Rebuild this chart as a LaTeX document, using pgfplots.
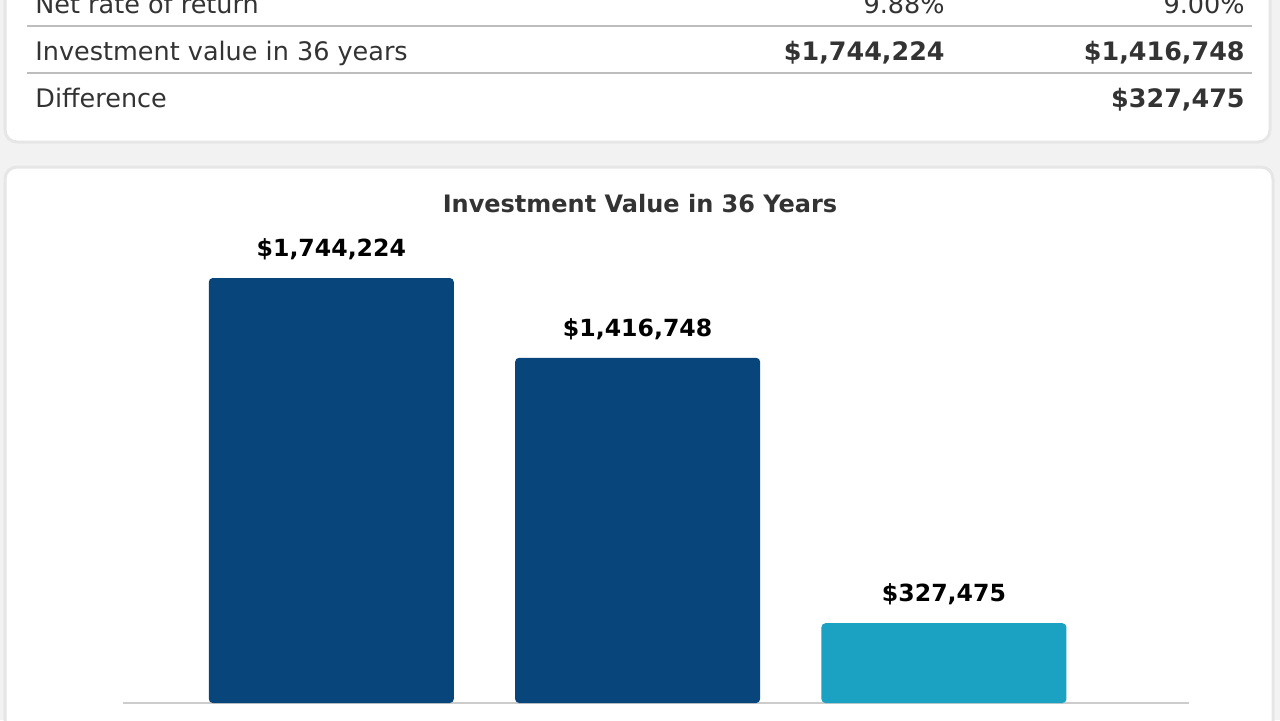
\documentclass[border=0pt]{standalone}
\usepackage{pgfplots}
\pgfplotsset{compat=1.18}
\usepackage{fontspec}
\setmainfont{DejaVu Sans}
\definecolor{bgc}{HTML}{F2F2F2}
\definecolor{cardb}{HTML}{E6E6E6}
\definecolor{txt}{HTML}{333333}
\definecolor{navy}{HTML}{07457A}
\definecolor{tealc}{HTML}{1BA1C1}
\definecolor{rulec}{HTML}{BDBDBD}
\definecolor{basec}{HTML}{CCCCCC}
\begin{document}
\begin{tikzpicture}
\useasboundingbox (0,0) rectangle (640pt,360pt);
\clip (0,0) rectangle (640pt,360pt);
\begin{scope}[x=0.5pt,y=0.5pt]
\fill[bgc] (0,0) rectangle (1280,720);
% top card
\draw[cardb, line width=1.5pt, fill=white, rounded corners=6pt] (5,800) rectangle (1270,578);
% bottom card
\draw[cardb, line width=1.5pt, fill=white, rounded corners=6pt] (5,553) rectangle (1273,-80);
% table rules
\draw[rulec, line width=0.8pt] (27,694) -- (1252,694);
\draw[rulec, line width=0.8pt] (27,647) -- (1252,647);
% table text
\tikzset{tt/.style={inner sep=0pt, text=txt, font=\fontsize{12.75pt}{15pt}\selectfont},
         tb/.style={tt, font=\bfseries\fontsize{12.7pt}{15pt}\selectfont}}
\node[tt, anchor=base west] at (35,707) {Net rate of return};
\node[tt, anchor=base east] at (945,707) {9.88\%};
\node[tt, anchor=base east] at (1245,707) {9.00\%};
\node[tt, anchor=base west] at (35,660) {Investment value in 36 years};
\node[tb, anchor=base east] at (945,660) {\$1,744,224};
\node[tb, anchor=base east] at (1245,660) {\$1,416,748};
\node[tt, anchor=base west] at (35,613) {Difference};
\node[tb, anchor=base east] at (1245,613) {\$327,475};
% chart title
\node[inner sep=0pt, anchor=base, text=txt, font=\bfseries\fontsize{12pt}{14pt}\selectfont] at (640,508) {Investment Value in 36 Years};
\end{scope}
\begin{axis}[
  at={(61.5pt,8.5pt)}, anchor=south west,
  scale only axis, width=533pt, height=236.5pt,
  xmin=-0.68, xmax=2.80, ymin=0, ymax=1941250,
  axis x line*=bottom, axis y line=none,
  xtick=\empty, ytick=\empty,
  x axis line style={basec, line width=1pt, -},
  ybar, bar width=122.5pt,
  clip=false,
  point meta=explicit symbolic,
  nodes near coords,
  nodes near coords style={font=\bfseries\fontsize{11.8pt}{14pt}\selectfont, text=black, anchor=south, inner sep=0pt, yshift=8.8pt},
]
\addplot[fill=navy, draw=none, bar shift=0pt, rounded corners=2pt] coordinates {(0,1744224) [{\$1,744,224}] (1,1416748) [{\$1,416,748}]};
\addplot[fill=tealc, draw=none, bar shift=0pt, rounded corners=2pt] coordinates {(2,327475) [{\$327,475}]};
\end{axis}
\end{tikzpicture}
\end{document}
